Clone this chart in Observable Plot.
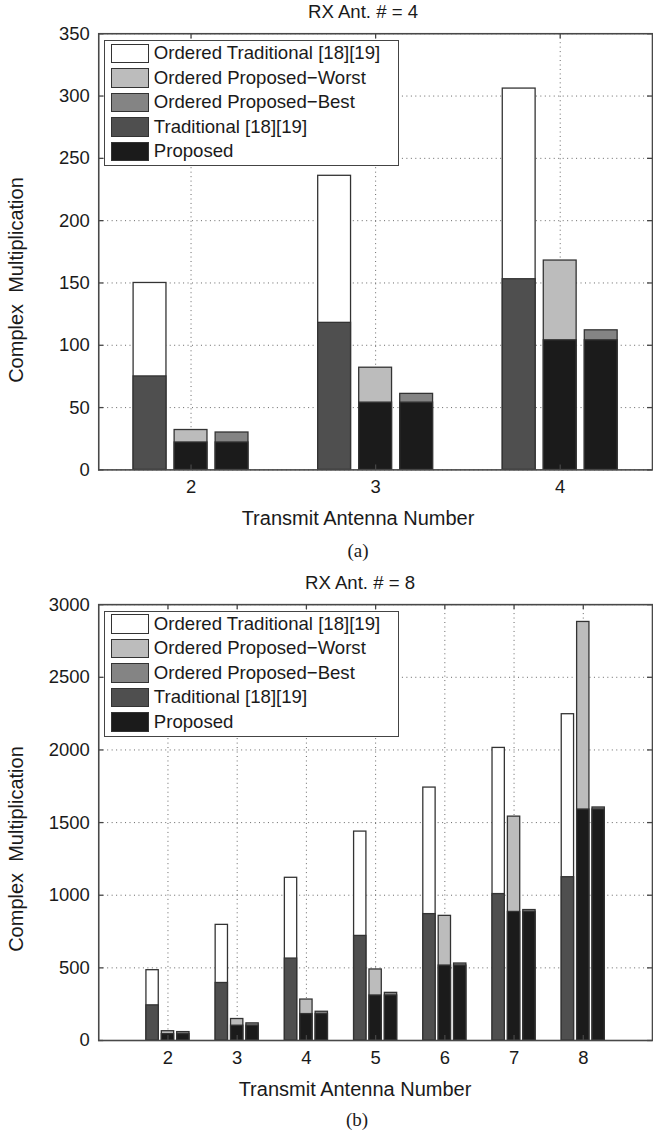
<!DOCTYPE html>
<html>
<head>
<meta charset="utf-8">
<script src="https://cdn.jsdelivr.net/npm/d3@7"></script>
<script src="https://cdn.jsdelivr.net/npm/@observablehq/plot@0.6"></script>
<style>
  html, body { margin: 0; padding: 0; background: #fff; overflow: hidden; }
  #page { position: relative; width: 653px; height: 1132px; overflow: hidden; font-family: "Liberation Sans", Arial, Helvetica, sans-serif; color: #1a1a1a; }
  .abs { position: absolute; white-space: pre; line-height: 1; }
  .ctr { transform: translate(-50%, -50%); }
  .title { font-size: 18.6px; }
  .xlabel { font-size: 20px; }
  .ylabel { font-size: 20px; transform: translate(-50%, -50%) rotate(-90deg); }
  .cap { font-family: "Liberation Serif", "Times New Roman", serif; font-size: 19px; }
  .legend { position: absolute; box-sizing: border-box; background: #fff; border: 1.5px solid #444; }
  .sw { position: absolute; box-sizing: border-box; border: 1.5px solid #333; width: 38px; height: 19.5px; }
  .lt { position: absolute; font-size: 18.6px; line-height: 1; transform: translateY(-50%); white-space: pre; }
</style>
</head>
<body>
<div id="page"></div>
<script>
// ---------- data ----------
const seriesNames = ["Ordered Traditional [18][19]", "Ordered Proposed\u2212Worst", "Ordered Proposed\u2212Best", "Traditional [18][19]", "Proposed"];
const seriesColors = ["#ffffff", "#bcbcbc", "#848484", "#4f4f4f", "#1b1b1b"];

// Panel (a): RX Ant. # = 4
const txA = [2, 3, 4];
const tradA = [75, 118, 153];
const ordTradA = [150, 236, 306];
const propA = [22, 54, 104];
const ordWorstA = [32, 82, 168];
const ordBestA = [30, 61, 112];
const yTicksA = [0, 50, 100, 150, 200, 250, 300, 350];

// Panel (b): RX Ant. # = 8
const txB = [2, 3, 4, 5, 6, 7, 8];
const tradB = [242, 396, 564, 720, 870, 1008, 1124];
const ordTradB = [484, 796, 1120, 1438, 1741, 2014, 2246];
const propB = [44, 102, 182, 310, 516, 885, 1590];
const ordWorstB = [64, 148, 282, 489, 858, 1541, 2881];
const ordBestB = [58, 118, 198, 328, 530, 898, 1604];
const yTicksB = [0, 500, 1000, 1500, 2000, 2500, 3000];

// ---------- layout ----------
const page = document.getElementById("page");
const FONT = "\"Liberation Sans\", Arial, Helvetica, sans-serif";
const BAR_STEP = 0.2222, BAR_W = 0.178;
const EDGE = "#333";

function panel(cfg) {
  const {tx, trad, ordTrad, prop, ordWorst, ordBest, yTicks, xDomain, yDomain, top, height, mTop, mBottom} = cfg;
  const W = 658, mLeft = 99, mRight = 1;
  const plotH = height - mTop - mBottom, plotW = W - mLeft - mRight;
  const rows = tx.map((t, i) => ({t, trad: trad[i], ordTrad: ordTrad[i], prop: prop[i], ordWorst: ordWorst[i], ordBest: ordBest[i]}));
  const x1 = k => d => d.t + (k - 1) * BAR_STEP - BAR_W / 2;
  const x2 = k => d => d.t + (k - 1) * BAR_STEP + BAR_W / 2;
  const bar = (k, key, fill) => Plot.rectY(rows, {x1: x1(k), x2: x2(k), y1: 0, y2: d => d[key], fill, stroke: EDGE, strokeWidth: 1.3});
  const svg = Plot.plot({
    width: W, height,
    marginLeft: mLeft, marginRight: mRight, marginTop: mTop, marginBottom: mBottom,
    style: {fontFamily: FONT, fontSize: "18.6px", color: "#1a1a1a", background: "transparent", overflow: "visible"},
    x: {domain: xDomain, axis: null},
    y: {domain: yDomain, axis: null},
    marks: [
      Plot.gridY(yTicks, {stroke: "#555", strokeOpacity: 0.9, strokeWidth: 1, strokeDasharray: "1,3.5"}),
      Plot.gridX(tx, {stroke: "#555", strokeOpacity: 0.9, strokeWidth: 1, strokeDasharray: "1,3.5"}),
      bar(0, "ordTrad", seriesColors[0]),
      bar(0, "trad", seriesColors[3]),
      bar(1, "ordWorst", seriesColors[1]),
      bar(1, "prop", seriesColors[4]),
      bar(2, "ordBest", seriesColors[2]),
      bar(2, "prop", seriesColors[4]),
      Plot.tickX(tx, {x: d => d, insetTop: plotH - 5, stroke: "#444", strokeWidth: 1.3}),
      Plot.tickX(tx, {x: d => d, insetBottom: plotH - 5, stroke: "#444", strokeWidth: 1.3}),
      Plot.tickY(yTicks, {y: d => d, insetRight: plotW - 5, stroke: "#444", strokeWidth: 1.3}),
      Plot.tickY(yTicks, {y: d => d, insetLeft: plotW - 5, stroke: "#444", strokeWidth: 1.3}),
      Plot.frame({stroke: "#484848", strokeWidth: 1.6}),
      Plot.axisY(yTicks, {tickSize: 0, tickPadding: 9, tickFormat: d => String(d), label: null, fontSize: 18.6}),
      Plot.axisX(tx, {tickSize: 0, tickPadding: 10.3, tickFormat: d => String(d), label: null, fontSize: 18.6})
    ]
  });
  svg.style.position = "absolute";
  svg.style.left = "0px";
  svg.style.top = top + "px";
  page.appendChild(svg);
}

function text(cls, str, x, y, extra) {
  const el = document.createElement("div");
  el.className = "abs " + cls + (extra || "");
  el.textContent = str;
  el.style.left = x + "px";
  el.style.top = y + "px";
  page.appendChild(el);
}

function legend(left, top) {
  const box = document.createElement("div");
  box.className = "legend";
  box.style.left = left + "px";
  box.style.top = top + "px";
  box.style.width = "295px";
  box.style.height = "126px";
  seriesNames.forEach((name, i) => {
    const sw = document.createElement("div");
    sw.className = "sw";
    sw.style.left = "6px";
    sw.style.top = (2.5 + 24.5 * i) + "px";
    sw.style.background = seriesColors[i];
    box.appendChild(sw);
    const t = document.createElement("div");
    t.className = "lt";
    t.style.left = "48.5px";
    t.style.top = (12.2 + 24.5 * i) + "px";
    t.textContent = name;
    box.appendChild(t);
  });
  page.appendChild(box);
}

// Panel (a)
panel({tx: txA, trad: tradA, ordTrad: ordTradA, prop: propA, ordWorst: ordWorstA, ordBest: ordBestA,
  yTicks: yTicksA, xDomain: [1.5, 4.5], yDomain: [0, 350], top: 0, height: 510, mTop: 33.5, mBottom: 37});
text("title", "RX Ant. # = 4", 363, 12, " ctr");
text("ylabel", "Complex  Multiplication", 16, 280);
text("xlabel", "Transmit Antenna Number", 358, 518, " ctr");
text("cap", "(a)", 358, 550, " ctr");
legend(104.3, 40);

// Panel (b)
panel({tx: txB, trad: tradB, ordTrad: ordTradB, prop: propB, ordWorst: ordWorstB, ordBest: ordBestB,
  yTicks: yTicksB, xDomain: [1, 9], yDomain: [0, 3000], top: 560, height: 510, mTop: 44.5, mBottom: 26.3});
text("title", "RX Ant. # = 8", 360, 583, " ctr");
text("ylabel", "Complex  Multiplication", 16, 849);
text("xlabel", "Transmit Antenna Number", 355, 1089, " ctr");
text("cap", "(b)", 357, 1119, " ctr");
legend(104.3, 610.7);
</script>
</body>
</html>
